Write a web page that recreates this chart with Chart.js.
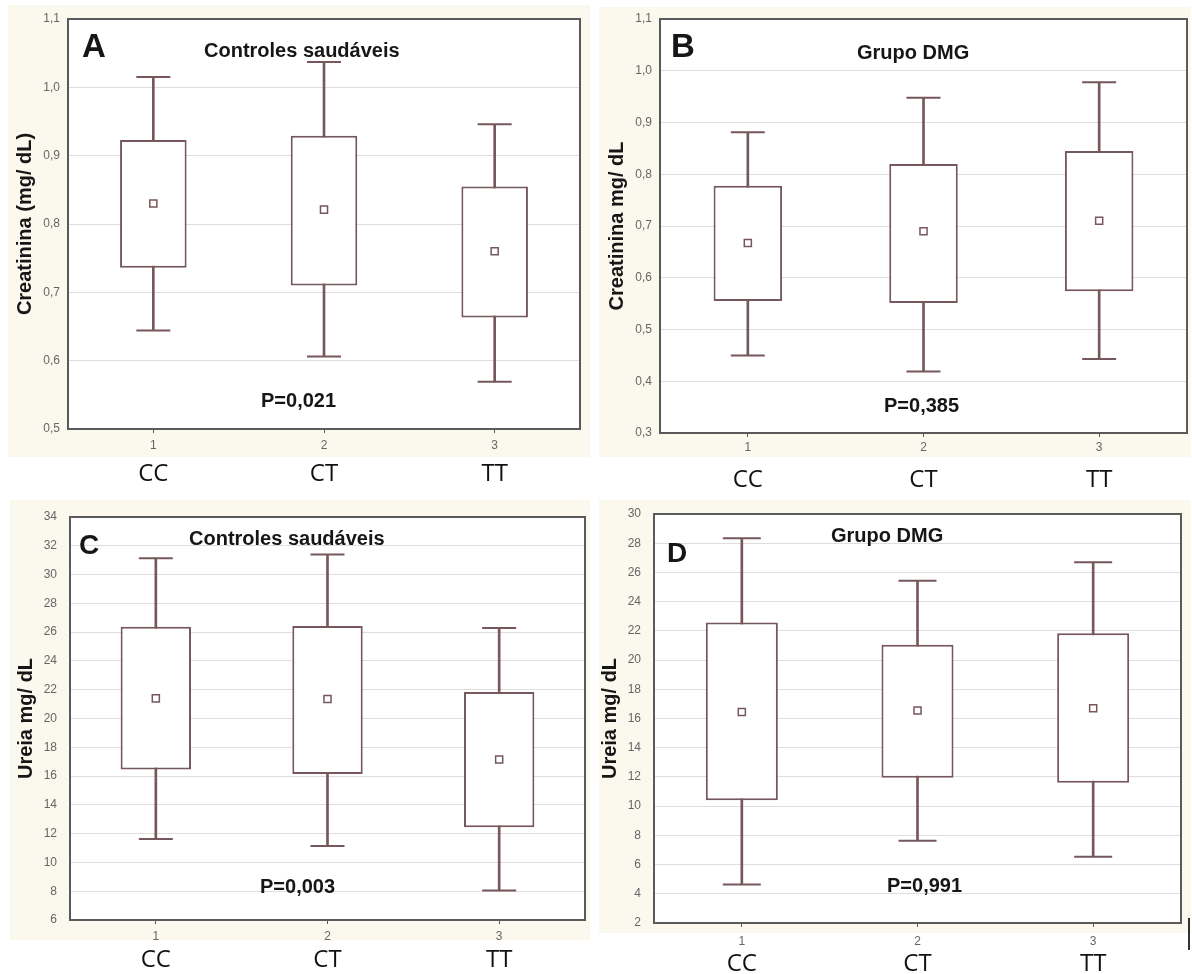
<!DOCTYPE html>
<html>
<head>
<meta charset="utf-8">
<script src="https://cdn.jsdelivr.net/npm/chart.js@4.4.1/dist/chart.umd.min.js"></script>
<style>
  body { margin: 0; background: #fff; width: 1192px; height: 974px; position: relative; overflow: hidden; font-family: "Liberation Sans", Arial, sans-serif; }
  .bg { position: absolute; background: #fbf8ee; }
  canvas { position: absolute; }
  .txt { position: absolute; font-weight: bold; line-height: 1; white-space: nowrap; color: #161616; }
  .big { font-size: 33px; }
  .mid { font-size: 28px; }
  .small { font-size: 20px; }
</style>
</head>
<body>
<div class="bg" style="left:8px;top:5px;width:582px;height:452px"></div>
<div class="bg" style="left:599px;top:7px;width:592px;height:450px"></div>
<div class="bg" style="left:10px;top:500px;width:580px;height:440px"></div>
<div class="bg" style="left:599px;top:500px;width:592px;height:433px"></div>

<canvas id="chartA" width="595" height="500" style="left:0;top:0"></canvas>
<canvas id="chartB" width="597" height="500" style="left:595px;top:0"></canvas>
<canvas id="chartC" width="595" height="484" style="left:0;top:490px"></canvas>
<canvas id="chartD" width="597" height="484" style="left:595px;top:490px"></canvas>

<div class="txt big" style="left:82px;top:29px">A</div>
<div class="txt small" style="left:204px;top:40px">Controles saudáveis</div>
<div class="txt small" style="left:261px;top:390px">P=0,021</div>

<div class="txt big" style="left:671px;top:29px">B</div>
<div class="txt small" style="left:857px;top:42px">Grupo DMG</div>
<div class="txt small" style="left:884px;top:395px">P=0,385</div>

<div class="txt mid" style="left:79px;top:531px">C</div>
<div class="txt small" style="left:189px;top:528px">Controles saudáveis</div>
<div class="txt small" style="left:260px;top:876px">P=0,003</div>

<div class="txt mid" style="left:667px;top:539px">D</div>
<div class="txt small" style="left:831px;top:525px">Grupo DMG</div>
<div class="txt small" style="left:887px;top:875px">P=0,991</div>

<div style="position:absolute;left:1188px;top:918px;width:2px;height:32px;background:#333"></div>

<script>
const genotypes = ['CC', 'CT', 'TT'];
const groupNumbers = ['1', '2', '3'];

// A - creatinina, controles saudáveis
const creatControlMean = [0.83, 0.821, 0.76];
const creatControlBoxLow = [0.736, 0.71, 0.663];
const creatControlBoxHigh = [0.923, 0.929, 0.855];
const creatControlWhiskerLow = [0.644, 0.606, 0.569];
const creatControlWhiskerHigh = [1.015, 1.037, 0.946];
const creatControlTicks = [0.5, 0.6, 0.7, 0.8, 0.9, 1.0, 1.1];

// B - creatinina, grupo DMG
const creatDmgMean = [0.667, 0.69, 0.71];
const creatDmgBoxLow = [0.555, 0.551, 0.574];
const creatDmgBoxHigh = [0.778, 0.82, 0.845];
const creatDmgWhiskerLow = [0.45, 0.419, 0.443];
const creatDmgWhiskerHigh = [0.881, 0.948, 0.978];
const creatDmgTicks = [0.3, 0.4, 0.5, 0.6, 0.7, 0.8, 0.9, 1.0, 1.1];

// C - ureia, controles saudáveis
const ureaControlMean = [21.4, 21.35, 17.15];
const ureaControlBoxLow = [16.45, 16.15, 12.45];
const ureaControlBoxHigh = [26.37, 26.42, 21.84];
const ureaControlWhiskerLow = [11.62, 11.15, 8.05];
const ureaControlWhiskerHigh = [31.14, 31.4, 26.28];
const ureaControlTicks = [6, 8, 10, 12, 14, 16, 18, 20, 22, 24, 26, 28, 30, 32, 34];

// D - ureia, grupo DMG
const ureaDmgMean = [16.45, 16.55, 16.7];
const ureaDmgBoxLow = [10.4, 11.95, 11.6];
const ureaDmgBoxHigh = [22.57, 21.05, 21.84];
const ureaDmgWhiskerLow = [4.64, 7.63, 6.53];
const ureaDmgWhiskerHigh = [28.34, 25.43, 26.7];
const ureaDmgTicks = [2, 4, 6, 8, 10, 12, 14, 16, 18, 20, 22, 24, 26, 28, 30];

const BOX_COLOR = '#76575b';
const FRAME_COLOR = '#5a5a5a';

const commaOne = v => v.toFixed(1).replace('.', ',');
const plain = v => String(v);

// white plot area + dark frame round it, like the statistica output
const framePlugin = {
    id: 'frame',
    beforeDraw(chart) {
        const a = chart.chartArea;
        const ctx = chart.ctx;
        ctx.save();
        ctx.fillStyle = '#fff';
        ctx.fillRect(a.left, a.top, a.right - a.left, a.bottom - a.top);
        ctx.restore();
    },
    afterDraw(chart) {
        const a = chart.chartArea;
        const ctx = chart.ctx;
        ctx.save();
        ctx.strokeStyle = FRAME_COLOR;
        ctx.lineWidth = 2;
        ctx.strokeRect(a.left, a.top, a.right - a.left, a.bottom - a.top);
        ctx.restore();
    }
};

function boxChart(id, p) {
    return new Chart(document.getElementById(id), {
        type: 'bar',
        data: {
            labels: groupNumbers,
            datasets: [
                {
                    type: 'line', data: p.mean, showLine: false,
                    pointStyle: 'rect', pointRadius: 5, pointBorderWidth: 1.5,
                    pointBorderColor: BOX_COLOR, pointBackgroundColor: '#fff'
                },
                {
                    type: 'line', data: p.whiskerHigh, showLine: false,
                    pointStyle: 'line', pointRadius: p.capRadius, pointBorderWidth: 2,
                    pointBorderColor: BOX_COLOR
                },
                {
                    type: 'line', data: p.whiskerLow, showLine: false,
                    pointStyle: 'line', pointRadius: p.capRadius, pointBorderWidth: 2,
                    pointBorderColor: BOX_COLOR
                },
                {
                    data: p.boxLow.map((v, i) => [v, p.boxHigh[i]]),
                    backgroundColor: '#fff', borderColor: BOX_COLOR, borderWidth: 2,
                    borderSkipped: false, barPercentage: p.boxWidth, categoryPercentage: 1,
                    grouped: false
                },
                {
                    data: p.whiskerLow.map((v, i) => [v, p.whiskerHigh[i]]),
                    backgroundColor: BOX_COLOR, barThickness: 2, grouped: false
                }
            ]
        },
        options: {
            responsive: false,
            animation: false,
            devicePixelRatio: 1,
            layout: { padding: p.padding, autoPadding: false },
            plugins: { legend: { display: false }, tooltip: { enabled: false } },
            scales: {
                x: {
                    weight: 0,
                    grid: { display: true, drawOnChartArea: false, drawTicks: true, tickLength: 4, offset: false, color: FRAME_COLOR },
                    border: { color: FRAME_COLOR, width: 2 },
                    ticks: { padding: p.numPad, color: '#666', font: { family: 'Liberation Sans', size: 12, lineHeight: 1 } },
                    afterFit: s => { s.height = p.numHeight; }
                },
                x2: {
                    type: 'category',
                    labels: genotypes,
                    position: 'bottom',
                    weight: 1,
                    offset: true,
                    grid: { display: false },
                    border: { display: false },
                    ticks: { padding: p.genoPad, color: '#111', font: { family: 'Open Sans', size: 24, lineHeight: 1 } },
                    afterFit: s => { s.height = p.genoHeight; }
                },
                y: {
                    min: p.ticks[0],
                    max: p.ticks[p.ticks.length - 1],
                    afterBuildTicks: s => { s.ticks = p.ticks.map(v => ({ value: v })); },
                    afterFit: s => { s.width = p.axisWidth; },
                    grid: { color: '#dedede', drawTicks: false },
                    border: { color: FRAME_COLOR, width: 2 },
                    ticks: {
                        padding: p.tickPad, color: '#666',
                        font: { family: 'Liberation Sans', size: 12 },
                        callback: v => p.fmt(v)
                    },
                    title: {
                        display: true, text: p.yTitle, color: '#161616',
                        font: { family: 'Liberation Sans', size: 20, weight: 'bold' },
                        padding: { top: p.titlePad, bottom: 0 }
                    }
                }
            }
        },
        plugins: [framePlugin]
    });
}

boxChart('chartA', {
    mean: creatControlMean, boxLow: creatControlBoxLow, boxHigh: creatControlBoxHigh,
    whiskerLow: creatControlWhiskerLow, whiskerHigh: creatControlWhiskerHigh,
    ticks: creatControlTicks, fmt: commaOne, yTitle: 'Creatinina (mg/ dL)',
    capRadius: 17, boxWidth: 0.39,
    padding: { left: 0, top: 19, right: 15, bottom: 10 },
    axisWidth: 68, tickPad: 8, titlePad: 13,
    numPad: 7, numHeight: 25, genoPad: 0, genoHeight: 36
});

boxChart('chartB', {
    mean: creatDmgMean, boxLow: creatDmgBoxLow, boxHigh: creatDmgBoxHigh,
    whiskerLow: creatDmgWhiskerLow, whiskerHigh: creatDmgWhiskerHigh,
    ticks: creatDmgTicks, fmt: commaOne, yTitle: 'Creatinina mg/ dL',
    capRadius: 17, boxWidth: 0.39,
    padding: { left: 0, top: 19, right: 5, bottom: 4 },
    axisWidth: 65, tickPad: 8, titlePad: 10,
    numPad: 5, numHeight: 23, genoPad: 4, genoHeight: 40
});

boxChart('chartC', {
    mean: ureaControlMean, boxLow: ureaControlBoxLow, boxHigh: ureaControlBoxHigh,
    whiskerLow: ureaControlWhiskerLow, whiskerHigh: ureaControlWhiskerHigh,
    ticks: ureaControlTicks, fmt: plain, yTitle: 'Ureia mg/ dL',
    capRadius: 17, boxWidth: 0.41,
    padding: { left: 0, top: 27, right: 10, bottom: 0 },
    axisWidth: 70, tickPad: 13, titlePad: 14,
    numPad: 7, numHeight: 24, genoPad: -4, genoHeight: 30
});

boxChart('chartD', {
    mean: ureaDmgMean, boxLow: ureaDmgBoxLow, boxHigh: ureaDmgBoxHigh,
    whiskerLow: ureaDmgWhiskerLow, whiskerHigh: ureaDmgWhiskerHigh,
    ticks: ureaDmgTicks, fmt: plain, yTitle: 'Ureia mg/ dL',
    capRadius: 19, boxWidth: 0.41,
    padding: { left: 0, top: 24, right: 11, bottom: 0 },
    axisWidth: 59, tickPad: 13, titlePad: 3,
    numPad: 9, numHeight: 27, genoPad: -6, genoHeight: 24
});
</script>
</body>
</html>
